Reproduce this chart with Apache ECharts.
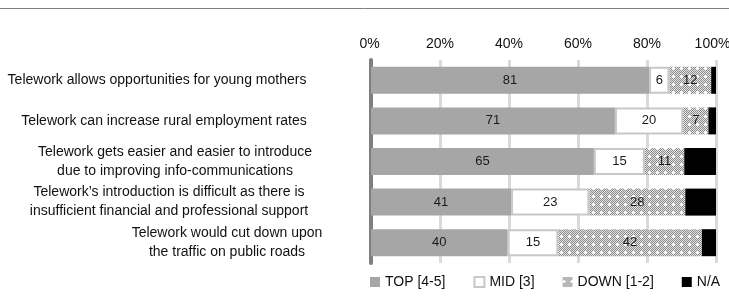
<!DOCTYPE html>
<html>
<head>
<meta charset="utf-8">
<script src="https://cdn.jsdelivr.net/npm/echarts@6/dist/echarts.min.js"></script>
<style>
html,body{margin:0;padding:0;background:#fff;}
#chart{width:729px;height:307px;}
</style>
</head>
<body>
<div id="chart"></div>
<script>
const categories = [
  "Telework allows opportunities for young mothers",
  "Telework can increase rural employment rates",
  "Telework gets easier and easier to introduce\ndue to improving info-communications",
  "Telework\u2019s introduction is difficult as there is\ninsufficient financial and professional support",
  "Telework would cut down upon\nthe traffic on public roads"
];
const seriesNames = ["TOP [4-5]", "MID [3]", "DOWN [1-2]", "N/A"];
const topValues  = [80.6, 70.7, 64.6, 40.6, 39.6];
const midValues  = [5.9, 19.8, 14.8, 22.7, 14.7];
const downValues = [12.1, 7.3, 11.4, 27.8, 41.6];
const naValues   = [1.4, 2.2, 9.2, 8.9, 4.1];
const xTicks = [0, 20, 40, 60, 80, 100];

const FONT = '"Liberation Sans", Arial, sans-serif';

// dotted pattern for DOWN
function makePattern() {
  const c = document.createElement('canvas');
  c.width = 8; c.height = 8;
  const ctx = c.getContext('2d');
  for (let y = 0; y < 8; y++) {
    for (let x = 0; x < 8; x++) {
      ctx.fillStyle = ((x + y) % 2 === 0) ? '#8a8a8a' : '#e6e6e6';
      ctx.fillRect(x, y, 1, 1);
    }
  }
  ctx.fillStyle = '#ffffff';
  ctx.fillRect(0, 4, 3, 1);
  ctx.fillRect(1, 3, 1, 3);
  return c;
}
const downPattern = { image: makePattern(), repeat: 'repeat' };

const chart = echarts.init(document.getElementById('chart'));
const labelStyles = ['r0', 'r1', 'r2', 'r3', 'r4'];
const barLabel = {
  show: true,
  position: 'inside',
  color: '#1a1a1a',
  fontSize: 13,
  fontFamily: FONT,
  formatter: p => String(Math.round(p.value))
};
const richBase = { fontSize: 14, lineHeight: 19, align: 'center', fontFamily: FONT, color: '#111111' };
const option = {
  animation: false,
  textStyle: { fontFamily: FONT },
  grid: { left: 371, right: 13, top: 60, bottom: 44, containLabel: false, outerBoundsMode: 'none' },
  graphic: [{
    type: 'line',
    shape: { x1: 0, y1: 8.5, x2: 729, y2: 8.5 },
    style: { stroke: '#808080', lineWidth: 1 }
  }],
  legend: {
    data: seriesNames,
    left: 365,
    top: 270,
    itemWidth: 10,
    itemHeight: 10,
    itemGap: 28,
    icon: 'rect',
    textStyle: { fontSize: 14, color: '#111111', fontFamily: FONT }
  },
  xAxis: {
    type: 'value',
    position: 'top',
    min: 0, max: 100, interval: 20,
    axisLine: { show: false },
    axisTick: { show: false },
    axisLabel: {
      margin: 9,
      fontSize: 14,
      color: '#111111',
      fontFamily: FONT,
      formatter: v => {
        if (xTicks.indexOf(v) < 0) return '';
        if (v === 0) return '{first|' + v + '%}';
        if (v === 100) return '{last|' + v + '%}';
        return v + '%';
      },
      rich: {
        first: { fontSize: 14, fontFamily: FONT, color: '#111111', padding: [0, 3, 0, 0] },
        last: { fontSize: 14, fontFamily: FONT, color: '#111111', padding: [0, 7, 0, 0] }
      }
    },
    splitLine: { show: true, lineStyle: { color: '#dadada', width: 3 } }
  },
  yAxis: {
    type: 'category',
    inverse: true,
    data: categories,
    axisLine: { show: true, lineStyle: { color: '#7f7f7f', width: 4 } },
    axisTick: { show: false },
    axisLabel: {
      margin: 214,
      align: 'center',
      fontSize: 14,
      lineHeight: 19,
      color: '#111111',
      fontFamily: FONT,
      formatter: (v, i) => '{' + labelStyles[i] + '|' + v + '}',
      rich: {
        r0: Object.assign({}, richBase, { padding: [0, 0, 0, 0] }),
        r1: Object.assign({}, richBase, { padding: [0, 0, 0, 14] }),
        r2: Object.assign({}, richBase, { padding: [0, 0, 0, 36] }),
        r3: Object.assign({}, richBase, { padding: [0, 0, 0, 24] }),
        r4: Object.assign({}, richBase, { padding: [0, 0, 0, 140] })
      }
    }
  },
  series: [
    { name: seriesNames[0], type: 'bar', stack: 's', barWidth: 27, data: topValues,
      itemStyle: { color: '#a6a6a6' }, label: barLabel },
    { name: seriesNames[1], type: 'bar', stack: 's', barWidth: 27, data: midValues,
      itemStyle: { color: '#ffffff', borderColor: '#c8c8c8', borderWidth: 2 }, label: barLabel },
    { name: seriesNames[2], type: 'bar', stack: 's', barWidth: 27, data: downValues,
      itemStyle: { color: downPattern }, label: barLabel },
    { name: seriesNames[3], type: 'bar', stack: 's', barWidth: 27, data: naValues,
      itemStyle: { color: '#000000' }, label: { show: false } }
  ]
};
chart.setOption(option);
</script>
</body>
</html>
